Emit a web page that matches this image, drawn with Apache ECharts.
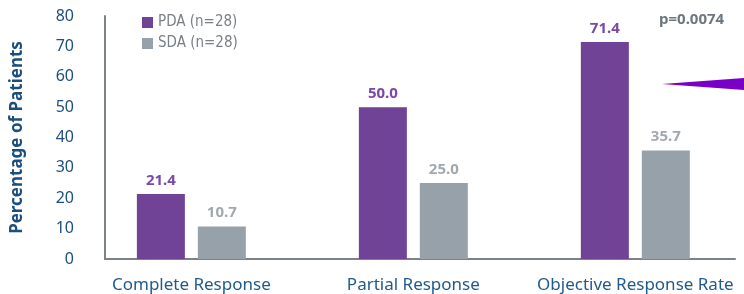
<!DOCTYPE html>
<html>
<head>
<meta charset="utf-8">
<script src="https://cdn.jsdelivr.net/npm/echarts@6/dist/echarts.min.js"></script>
<style>html,body{margin:0;padding:0;background:#fff}#c{width:744px;height:294px}</style>
</head>
<body>
<div id="c"></div>
<script>
var categories = ['Complete Response', 'Partial Response', 'Objective Response Rate'];
var pdaValues = [21.4, 50.0, 71.4];
var sdaValues = [10.7, 25.0, 35.7];
var seriesNames = ['PDA (n=28)', 'SDA (n=28)'];
var yTicks = [0, 10, 20, 30, 40, 50, 60, 70, 80];
var pValueText = 'p=0.0074';

var chart = echarts.init(document.getElementById('c'), null, {renderer: 'canvas'});
function toPairs(vals) { return vals.map(function (v, i) { return [i, v]; }); }
var font = '"Noto Sans", "Open Sans", sans-serif';
var option = {
  animation: false,
  textStyle: {fontFamily: font},
  grid: {left: 105, right: 9, top: 16, bottom: 34, containLabel: false},
  legend: {
    orient: 'vertical', left: 137, top: 10, itemWidth: 11, itemHeight: 11, itemGap: 6,
    icon: 'rect',
    textStyle: {color: '#7a8087', fontSize: 15, fontFamily: '"DejaVu Sans Condensed", "Liberation Sans Narrow", "Noto Sans", sans-serif'},
    data: seriesNames
  },
  xAxis: {
    type: 'value', min: -0.389, max: 2.449,
    splitLine: {show: false},
    axisLine: {show: true, onZero: false, lineStyle: {color: '#7d8287', width: 2}},
    axisTick: {show: false},
    axisLabel: {
      customValues: [0, 1, 2],
      formatter: function (v) { return categories[Math.round(v)] || ''; },
      color: '#1f5a8c', fontSize: 17, margin: 18, fontFamily: font
    }
  },
  yAxis: {
    type: 'value', min: 0, max: 80, interval: 10,
    name: 'Percentage of Patients', nameLocation: 'middle', nameGap: 79,
    nameTextStyle: {color: '#1b4d7e', fontSize: 17, fontWeight: 'bold', fontFamily: font},
    splitLine: {show: false},
    axisLine: {show: true, onZero: false, lineStyle: {color: '#7d8287', width: 2}},
    axisTick: {show: false},
    axisLabel: {color: '#1d4f80', fontSize: 16, margin: 31, fontFamily: font,
      formatter: function (v) { return yTicks.indexOf(v) >= 0 ? String(v) : ''; }}
  },
  series: [
    {
      name: seriesNames[0], type: 'bar', data: toPairs(pdaValues), barWidth: 48, barGap: '27%',
      itemStyle: {color: '#704396'},
      label: {show: true, position: 'top', distance: 6, color: '#7a48a6', fontSize: 15, fontWeight: 'bold', fontFamily: font,
        formatter: function (p) { return p.value[1].toFixed(1); }}
    },
    {
      name: seriesNames[1], type: 'bar', data: toPairs(sdaValues), barWidth: 48,
      itemStyle: {color: '#97a1aa'},
      label: {show: true, position: 'top', distance: 6, color: '#a1a8af', fontSize: 15, fontWeight: 'bold', fontFamily: font,
        formatter: function (p) { return p.value[1].toFixed(1); }}
    }
  ],
  graphic: [
    {type: 'text', left: 659, top: 12, style: {text: pValueText, fill: '#6e7780', font: 'bold 15px ' + font}},
    {type: 'polygon', shape: {points: [[662, 84], [744, 78], [744, 90]]}, style: {fill: '#7a00c8'}}
  ]
};
chart.setOption(option);
</script>
</body>
</html>
